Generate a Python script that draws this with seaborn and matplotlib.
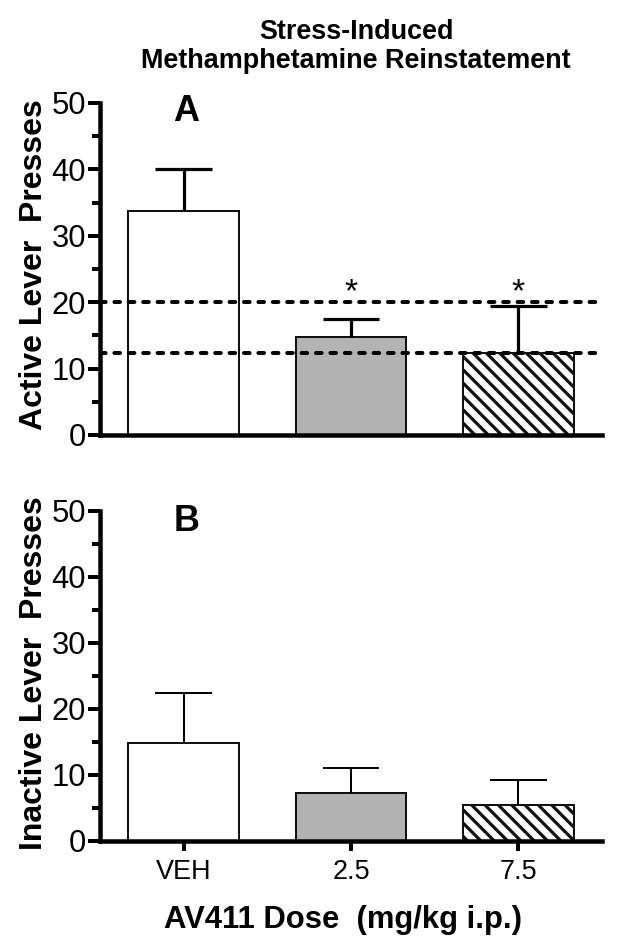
import matplotlib
matplotlib.use("Agg")
import matplotlib.pyplot as plt
import seaborn as sns
import pandas as pd

# ---------------- data ----------------
doses = ["VEH", "2.5", "7.5"]
active_mean = [33.7, 14.7, 12.3]
active_sem = [6.4, 2.7, 7.1]
inactive_mean = [14.9, 7.3, 5.4]
inactive_sem = [7.6, 3.8, 3.9]
reference_lines = [20.0, 12.4]
significant = [False, True, True]
title_lines = ["Stress-Induced", "Methamphetamine Reinstatement"]
ylabel_a = "Active Lever  Presses"
ylabel_b = "Inactive Lever  Presses"
xlabel = "AV411 Dose  (mg/kg i.p.)"
panel_letters = ["A", "B"]
yticks = [0, 10, 20, 30, 40, 50]

bar_colors = ["#ffffff", "#b3b3b3", "#ffffff"]
bar_hatches = ["", "", "\\\\\\\\"]

# ---------------- style ----------------
DPI = 160
PT = 72.0 / DPI  # points per pixel
sns.set_style("ticks")
plt.rcParams["font.family"] = ["Liberation Sans", "DejaVu Sans"]
plt.rcParams["hatch.linewidth"] = 3.2 * PT
for key in ["text.color", "axes.labelcolor", "xtick.color", "ytick.color",
            "xtick.labelcolor", "ytick.labelcolor"]:
    plt.rcParams[key] = "black"

fig = plt.figure(figsize=(632 / DPI, 952 / DPI), dpi=DPI)
W, H = 632.0, 952.0
ax_a = fig.add_axes([100 / W, 1 - 435 / H, 502 / W, 332 / H])
ax_b = fig.add_axes([100 / W, 1 - 841 / H, 502 / W, 330 / H])


def draw_panel(ax, means, sems, err_lw_px):
    df = pd.DataFrame({"dose": doses, "value": means})
    sns.barplot(data=df, x="dose", y="value", hue="dose", order=doses,
                hue_order=doses, palette=bar_colors, dodge=False,
                legend=False, width=0.66, errorbar=None,
                edgecolor="#111111", linewidth=2.0 * PT, ax=ax, zorder=2)
    for p in ax.patches:
        idx = int(round(p.get_x() + p.get_width() / 2))
        p.set_hatch(bar_hatches[idx])
        p.set_edgecolor("#111111")
    xs = list(range(len(doses)))
    tops = [m + s for m, s in zip(means, sems)]
    ax.vlines(xs, means, tops, colors="black", linewidth=err_lw_px * PT,
              zorder=3)
    ax.hlines(tops, [x - 0.17 for x in xs], [x + 0.17 for x in xs],
              colors="black", linewidth=err_lw_px * PT, zorder=3)
    ax.set_ylim(0, 50)
    ax.set_xlim(-0.5, 2.5)
    ax.set_yticks(yticks)
    ax.set_yticks([5, 15, 25, 35, 45], minor=True)
    for s in ["top", "right"]:
        ax.spines[s].set_visible(False)
    for s in ["left", "bottom"]:
        ax.spines[s].set_linewidth(4.5 * PT)
        ax.spines[s].set_color("black")
    ax.tick_params(axis="y", which="major", length=12 * PT, width=4 * PT,
                   labelsize=31 * PT, pad=2 * PT, color="black")
    ax.tick_params(axis="y", which="minor", length=8 * PT, width=4 * PT,
                   color="black")
    ax.set_xlabel("")


# Panel A
draw_panel(ax_a, active_mean, active_sem, 3.2)
for v in reference_lines:
    ln = ax_a.axhline(v, color="black", linewidth=4 * PT, zorder=4,
                      dash_capstyle="round")
    ln.set_dashes((1.4, 2.2))
for i, sig in enumerate(significant):
    if sig:
        ax_a.text(i, 20.1, "*", ha="center", va="baseline",
                  fontsize=34 * PT, color="black")
ax_a.tick_params(axis="x", which="both", bottom=False, labelbottom=False)
ax_a.set_ylabel(ylabel_a, fontsize=32 * PT, fontweight="bold")
ax_a.yaxis.set_label_coords(-0.1016, 0.512)
ax_a.text(0.015, 47.3, panel_letters[0], ha="center", va="baseline",
          fontsize=36 * PT, fontweight="bold")

# Panel B
draw_panel(ax_b, inactive_mean, inactive_sem, 2.0)
ax_b.tick_params(axis="x", which="major", length=10 * PT, width=4 * PT,
                 labelsize=27 * PT, pad=8 * PT, color="black")
ax_b.set_ylabel(ylabel_b, fontsize=32 * PT, fontweight="bold")
ax_b.yaxis.set_label_coords(-0.1016, 0.51)
ax_b.set_xlabel(xlabel, fontsize=31 * PT, fontweight="bold")
ax_b.xaxis.set_label_coords(0.485, -0.194)
ax_b.text(0.015, 46.9, panel_letters[1], ha="center", va="baseline",
          fontsize=36 * PT, fontweight="bold")

# Title
fig.text(356 / W, 1 - 39 / H, title_lines[0], ha="center", va="baseline",
         fontsize=27 * PT, fontweight="bold")
fig.text(356 / W, 1 - 68 / H, title_lines[1], ha="center", va="baseline",
         fontsize=27 * PT, fontweight="bold")

fig.savefig("out.png", dpi=DPI, facecolor="white")
